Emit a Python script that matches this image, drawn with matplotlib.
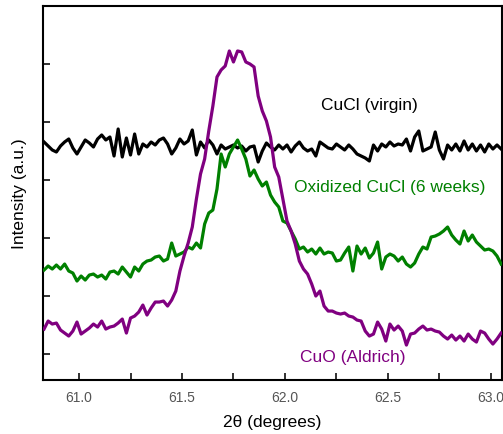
import numpy as np
import matplotlib.pyplot as plt
from matplotlib.ticker import MultipleLocator

plt.rcParams['font.family'] = ['Liberation Sans', 'DejaVu Sans']

# 2theta grid, 0.02 deg step
two_theta = np.round(np.arange(60.83, 63.051, 0.02), 2)

cucl_virgin = [238, 234, 230, 228, 234, 238, 241, 232, 226, 233,
               240, 237, 233, 241, 245, 240, 243, 224, 251, 223,
               242, 225, 246, 226, 236, 233, 238, 235, 240, 242,
               236, 226, 232, 241, 236, 239, 250, 225, 238, 232,
               240, 235, 226, 235, 231, 233, 235, 232, 234, 229,
               233, 234, 218, 229, 237, 233, 230, 235, 231, 235,
               228, 234, 238, 232, 229, 231, 224, 238, 235, 232,
               231, 236, 233, 230, 235, 231, 226, 224, 222, 219,
               235, 229, 236, 233, 238, 234, 236, 235, 241, 229,
               243, 249, 229, 231, 233, 248, 230, 221, 235, 230,
               236, 229, 239, 230, 236, 229, 235, 228, 236, 231,
               235, 231]

cucl_oxidized = [110, 114, 111, 115, 111, 116, 109, 107, 99, 104,
                 100, 105, 106, 103, 105, 101, 108, 109, 106, 113,
                 108, 103, 113, 109, 116, 119, 120, 123, 124, 119,
                 121, 137, 124, 126, 128, 133, 131, 137, 132, 156,
                 167, 170, 191, 226, 213, 226, 233, 240, 231, 221,
                 204, 210, 201, 194, 198, 185, 178, 173, 159, 157,
                 149, 141, 131, 133, 128, 131, 126, 132, 126, 128,
                 127, 119, 120, 127, 133, 109, 134, 126, 132, 122,
                 127, 138, 111, 123, 126, 124, 119, 123, 116, 113,
                 117, 126, 133, 131, 143, 144, 146, 149, 153, 145,
                 140, 136, 149, 139, 145, 138, 134, 130, 131, 129,
                 124, 116]

cuo_aldrich = [51, 59, 56, 57, 50, 47, 44, 49, 58, 46,
               49, 52, 56, 53, 59, 51, 53, 54, 57, 61,
               47, 62, 64, 68, 75, 65, 72, 78, 78, 79,
               74, 80, 89, 109, 124, 137, 153, 181, 206, 221,
               249, 274, 303, 310, 314, 329, 318, 329, 328, 318,
               316, 313, 284, 269, 259, 243, 213, 203, 181, 159,
               149, 136, 119, 111, 106, 96, 84, 89, 74, 69,
               69, 67, 66, 67, 64, 63, 60, 59, 49, 44,
               46, 58, 51, 39, 56, 50, 54, 49, 35, 46,
               47, 51, 54, 50, 51, 49, 48, 44, 41, 45,
               40, 44, 39, 46, 41, 38, 49, 47, 41, 36,
               41, 47]

fig = plt.figure(figsize=(5.03, 4.35), dpi=100)
ax = fig.add_axes([0.0855, 0.124, 0.912, 0.86])

ax.plot(two_theta, cucl_virgin, color='black', lw=2.3, zorder=2)
ax.plot(two_theta, cucl_oxidized, color='#008000', lw=2.3, zorder=3)
ax.plot(two_theta, cuo_aldrich, color='#800080', lw=2.3, zorder=4)

ax.text(62.41, 275, 'CuCl (virgin)', color='black', fontsize=12.5, ha='center', va='center')
ax.text(62.51, 194, 'Oxidized CuCl (6 weeks)', color='#008000', fontsize=12.5,
        ha='center', va='center')
ax.text(62.33, 24, 'CuO (Aldrich)', color='#800080', fontsize=12.5, ha='center', va='center')

ax.set_xlim(60.825, 63.053)
ax.set_ylim(0, 374)
ax.xaxis.set_major_locator(MultipleLocator(0.5))
ax.xaxis.set_minor_locator(MultipleLocator(0.25))
ax.set_yticks(np.arange(26, 374, 58))
ax.set_yticklabels([])
ax.tick_params(axis='both', which='both', direction='in', length=5, width=1.3,
               colors='#222222', labelcolor='#555555', labelsize=10)
ax.tick_params(axis='x', pad=7)
for s in ax.spines.values():
    s.set_linewidth(1.5)

ax.set_xlabel('2θ (degrees)', fontsize=12.5, labelpad=7)
ax.set_ylabel('Intensity (a.u.)', fontsize=12.5, labelpad=8)

fig.savefig('out.png', dpi=100)
